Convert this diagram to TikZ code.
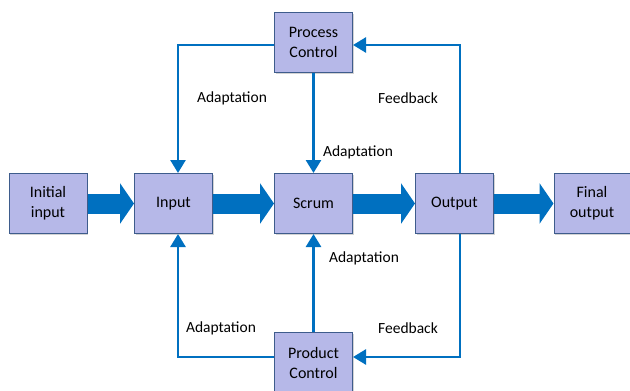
\documentclass[tikz,border=0pt]{standalone}
\usepackage{fontspec}
\setmainfont{Carlito}
\usetikzlibrary{arrows.meta,shadows}
\definecolor{boxfill}{RGB}{182,184,232}
\definecolor{boxdraw}{RGB}{62,92,140}
\definecolor{flow}{RGB}{0,112,192}
\tikzset{
  blk/.style={draw=boxdraw,line width=1pt,fill=boxfill,minimum width=78pt,minimum height=60pt,
    align=center,font=\fontsize{16}{20}\selectfont,inner sep=2pt,
    drop shadow={shadow xshift=1pt,shadow yshift=-1pt,opacity=0.35}},
  bigarrow/.style={draw=flow,line width=20pt,-{Triangle[length=14pt,width=40pt]}},
  thin/.style={draw=flow,line width=2.6pt},
  thinarrow/.style={thin,-{Triangle[length=13pt,width=15pt]}},
  lbl/.style={font=\fontsize{15.5}{18}\selectfont,inner sep=1pt}
}
\begin{document}
\begin{tikzpicture}[x=1pt,y=-1pt]
\useasboundingbox (0,0) rectangle (630,391);
% boxes
\node[blk] (ini) at (48,203.5) {Initial\\input};
\node[blk] (inp) at (173.5,203.5) {Input};
\node[blk] (scr) at (313.5,203.5) {Scrum};
\node[blk] (out) at (454.5,203.5) {Output};
\node[blk,minimum width=76pt] (fin) at (592,203.5) {Final\\output};
\node[blk] (pc) at (313.5,42.5) {Process\\Control};
\node[blk] (pd) at (313.5,362.5) {Product\\Control};
% big arrows
\draw[bigarrow] (ini.east) -- (inp.west);
\draw[bigarrow] (inp.east) -- (scr.west);
\draw[bigarrow] (scr.east) -- (out.west);
\draw[bigarrow] (out.east) -- (fin.west);
% coordinates
\coordinate (pcl) at (pc.west |- 0,45);
\coordinate (pcr) at (pc.east |- 0,45);
\coordinate (pdl) at (pd.west |- 0,357);
\coordinate (pdr) at (pd.east |- 0,357);
\coordinate (inpt) at (178,0 |- inp.north);
\coordinate (inpb) at (178,0 |- inp.south);
\coordinate (outt) at (460,0 |- out.north);
\coordinate (outb) at (460,0 |- out.south);
% thin connectors
\draw[thinarrow] (pcl) -| (inpt);
\draw[thinarrow] (pc.south) -- (scr.north);
\draw[thinarrow] (outt) |- (pcr);
\draw[thinarrow] (pdl) -| (inpb);
\draw[thinarrow] (pd.north) -- (scr.south);
\draw[thinarrow] (outb) |- (pdr);
% labels
\node[lbl] (l1) at (232,98) {Adaptation};
\node[lbl] (l2) at (408,98) {Feedback};
\node[lbl] (l3) at (358,152) {Adaptation};
\node[lbl] (l4) at (364,258) {Adaptation};
\node[lbl] (l5) at (221,328) {Adaptation};
\node[lbl] (l6) at (408,328) {Feedback};
\end{tikzpicture}
\end{document}
